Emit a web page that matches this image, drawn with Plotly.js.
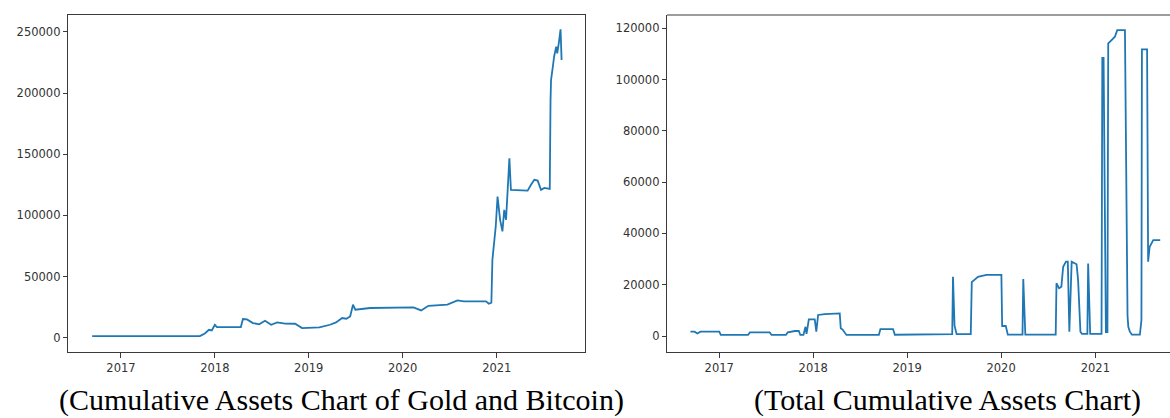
<!DOCTYPE html>
<html>
<head>
<meta charset="utf-8">
<script src="https://cdn.plot.ly/plotly-3.0.1.min.js"></script>
<style>
html,body{margin:0;padding:0;background:#fff;overflow:hidden;}
#chart{width:1170px;height:418px;}
</style>
</head>
<body>
<div id="chart"></div>
<script>
// Cumulative assets of gold and bitcoin (left panel)
const goldBtcDates = [
  "2016-09-11","2017-11-04","2017-11-23","2017-12-09","2017-12-20","2018-01-01","2018-01-09",
  "2018-04-12","2018-04-20","2018-05-06","2018-05-29","2018-06-22","2018-07-15","2018-08-08",
  "2018-08-31","2018-10-01","2018-11-09","2018-12-06","2019-02-11","2019-03-25","2019-04-17",
  "2019-05-11","2019-05-27","2019-06-11","2019-06-22","2019-07-01","2019-08-28","2020-02-12",
  "2020-03-13","2020-04-10","2020-06-23","2020-08-01","2020-08-26","2020-11-20","2020-12-01",
  "2020-12-11","2020-12-15","2020-12-28","2021-01-04","2021-01-14","2021-01-23","2021-01-30",
  "2021-02-06","2021-02-12","2021-02-19","2021-02-25","2021-05-01","2021-05-14","2021-05-27",
  "2021-06-09","2021-06-22","2021-07-05","2021-07-26","2021-07-29","2021-07-31","2021-08-07",
  "2021-08-12","2021-08-20","2021-08-24","2021-08-30","2021-09-06","2021-09-10"
];
const goldBtcValues = [
  1300,1300,3500,6500,6000,10500,8700,
  8700,15300,15000,12000,11000,13900,10600,
  12500,11500,11400,7900,8400,10600,12500,
  16100,15500,17400,27000,22900,24300,24800,
  22300,26100,27000,30500,29700,29700,27800,
  28600,63700,91000,115400,96400,86900,104600,
  96400,123600,146800,120900,120300,125000,129100,
  128500,120900,122500,121700,194000,210800,221600,
  230000,238000,232600,240700,252200,227100
];

// Total cumulative assets (right panel)
const totalDates = [
  "2016-09-11","2016-09-27","2016-10-08","2016-10-20","2017-01-01","2017-01-07","2017-04-23",
  "2017-04-30","2017-07-16","2017-07-23","2017-09-17","2017-09-24","2017-10-22","2017-11-06",
  "2017-11-12","2017-11-24","2017-12-02","2017-12-06","2017-12-15","2018-01-07","2018-01-13",
  "2018-01-20","2018-02-15","2018-03-19","2018-04-14","2018-04-18","2018-04-25","2018-05-10",
  "2018-09-13","2018-09-19","2018-11-07","2018-11-14","2019-05-14","2019-06-25","2019-06-28",
  "2019-07-04","2019-07-12","2019-09-05","2019-09-09","2019-09-21","2019-10-03","2019-11-05",
  "2020-01-02","2020-01-05","2020-01-19","2020-01-27","2020-03-24","2020-03-27","2020-04-01",
  "2020-04-04","2020-07-31","2020-08-03","2020-08-13","2020-08-22","2020-08-29","2020-09-09",
  "2020-09-16","2020-09-22","2020-10-01","2020-10-20","2020-10-26","2020-10-31","2020-11-04",
  "2020-11-10","2020-12-01","2020-12-04","2020-12-09","2020-12-12","2021-01-25","2021-01-28",
  "2021-02-02","2021-02-11","2021-02-17","2021-02-20","2021-03-05","2021-03-18","2021-03-27",
  "2021-04-26","2021-05-06","2021-05-09","2021-05-15","2021-05-23","2021-06-23","2021-06-29",
  "2021-07-01","2021-07-21","2021-07-25","2021-07-31","2021-08-14","2021-09-10"
];
const totalValues = [
  1700,1700,1000,1700,1700,400,400,
  1400,1400,400,400,1400,1950,1950,
  400,400,3600,800,6500,6500,1700,
  8200,8500,8800,8800,3000,2500,400,
  400,2700,2700,500,700,700,23100,
  4000,700,700,21000,22000,23100,23800,
  23800,3900,3900,500,500,22200,2000,
  500,500,20600,18600,19200,27000,29000,
  29000,1700,29000,28000,21800,10000,1700,
  800,800,28300,5000,800,800,108500,
  108500,1500,1500,114100,115400,116700,119300,
  119300,8000,3600,1700,500,500,6200,
  111800,111800,29000,34800,37400,37400
];

const leftYTicks = [0,50000,100000,150000,200000,250000];
const rightYTicks = [0,20000,40000,60000,80000,100000,120000];
const yearTicks = ["2017-01-01","2018-01-01","2019-01-01","2020-01-01","2021-01-01"];
const yearLabels = ["2017","2018","2019","2020","2021"];
const captions = ["(Cumulative Assets Chart of Gold and Bitcoin)","(Total Cumulative Assets Chart)"];

const W = 1170, H = 418;
const lineColor = "#1f77b4";
const frameColor = "#3a3a3a";
const tickFont = {family:"DejaVu Sans", size:11.5, color:"#333"};

const yDom = [1 - 351.7/H, 1 - 15/H];

const traces = [
  {x: goldBtcDates, y: goldBtcValues, type:"scatter", mode:"lines", line:{color:lineColor, width:1.8, shape:"linear"}, xaxis:"x", yaxis:"y", hoverinfo:"x+y"},
  {x: totalDates, y: totalValues, type:"scatter", mode:"lines", line:{color:lineColor, width:1.8, shape:"linear"}, xaxis:"x2", yaxis:"y2", hoverinfo:"x+y"}
];

const commonX = {
  type:"date", tickmode:"array", tickvals: yearTicks, ticktext: yearLabels,
  showgrid:false, zeroline:false, showline:true, linecolor:frameColor, linewidth:1.2,
  ticks:"outside", ticklen:5, tickcolor:frameColor, tickwidth:1, tickfont: tickFont
};
const commonY = {
  tickmode:"array", showgrid:false, zeroline:false, showline:true, linecolor:frameColor, linewidth:1.2,
  ticks:"outside", ticklen:4, tickcolor:frameColor, tickwidth:1, tickfont: tickFont
};

const layout = {
  width: W, height: H,
  margin:{l:0,r:0,t:0,b:0},
  paper_bgcolor:"#fff", plot_bgcolor:"#fff",
  showlegend:false,
  xaxis: Object.assign({}, commonX, {domain:[68/W, 585/W], range:["2016-06-09","2021-12-10"], mirror:true, anchor:"y"}),
  yaxis: Object.assign({}, commonY, {domain:yDom, range:[-11438, 263889], tickvals:leftYTicks, ticktext:leftYTicks.map(String), mirror:true, anchor:"x"}),
  xaxis2: Object.assign({}, commonX, {domain:[667/W, 1], range:["2016-06-12","2021-10-18"], anchor:"y2"}),
  yaxis2: Object.assign({}, commonY, {domain:yDom, range:[-6123, 125187], tickvals:rightYTicks, ticktext:rightYTicks.map(String), anchor:"x2"}),
  shapes:[
    {type:"line", xref:"paper", yref:"paper", x0:667/W, x1:1, y0:yDom[1], y1:yDom[1], line:{color:frameColor, width:1.2}}
  ],
  annotations:[
    {text:captions[0], xref:"paper", yref:"paper", x:341/W, y:1-400/H, xanchor:"center", yanchor:"middle", showarrow:false,
     font:{family:"Liberation Serif", size:30, color:"#000"}},
    {text:captions[1], xref:"paper", yref:"paper", x:947.5/W, y:1-400/H, xanchor:"center", yanchor:"middle", showarrow:false,
     font:{family:"Liberation Serif", size:30, color:"#000"}}
  ]
};

Plotly.newPlot("chart", traces, layout, {displayModeBar:false, staticPlot:true});
</script>
</body>
</html>
